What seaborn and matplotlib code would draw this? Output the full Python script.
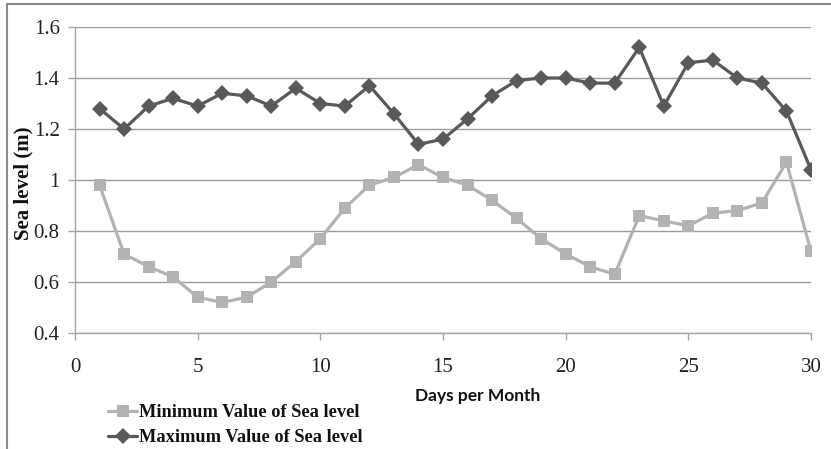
import matplotlib
matplotlib.use("Agg")
import matplotlib.pyplot as plt
from matplotlib.lines import Line2D
import seaborn as sns
import pandas as pd

days = list(range(1, 31))
min_values = [0.98, 0.71, 0.66, 0.62, 0.54, 0.52, 0.54, 0.60, 0.68, 0.77,
              0.89, 0.98, 1.01, 1.06, 1.01, 0.98, 0.92, 0.85, 0.77, 0.71,
              0.66, 0.63, 0.86, 0.84, 0.82, 0.87, 0.88, 0.91, 1.07, 0.72]
max_values = [1.28, 1.20, 1.29, 1.32, 1.29, 1.34, 1.33, 1.29, 1.36, 1.30,
              1.29, 1.37, 1.26, 1.14, 1.16, 1.24, 1.33, 1.39, 1.40, 1.40,
              1.38, 1.38, 1.52, 1.29, 1.46, 1.47, 1.40, 1.38, 1.27, 1.04]
series_names = ["Minimum Value of Sea level", "Maximum Value of Sea level"]
x_ticks = [0, 5, 10, 15, 20, 25, 30]
y_ticks = [0.4, 0.6, 0.8, 1.0, 1.2, 1.4, 1.6]
y_tick_labels = ["0.4", "0.6", "0.8", "1", "1.2", "1.4", "1.6"]

sns.set_style("white")
plt.rcParams['font.family'] = ['Liberation Serif', 'DejaVu Serif']

fig = plt.figure(figsize=(8.31, 4.49), dpi=100)
ax = fig.add_axes([75/831, 1-333/449, (811-75)/831, (333-27)/449])

df_min = pd.DataFrame({"Day": days, "Sea level": min_values})
df_max = pd.DataFrame({"Day": days, "Sea level": max_values})

sns.lineplot(data=df_min, x="Day", y="Sea level", ax=ax, color="#b3b3b3",
             linewidth=2.3, marker="s", markersize=9, markeredgewidth=0,
             label=series_names[0])
sns.lineplot(data=df_max, x="Day", y="Sea level", ax=ax, color="#595959",
             linewidth=2.3, marker="D", markersize=8.5, markeredgewidth=0,
             label=series_names[1])

ax.set_xlim(0, 30)
ax.set_ylim(0.4, 1.6)
ax.set_xticks(x_ticks)
ax.set_yticks(y_ticks)
ax.set_yticklabels(y_tick_labels)
ax.tick_params(axis="both", labelsize=15, colors="#a6a6a6", labelcolor="#222222",
               length=5, width=1, direction="out", bottom=True, left=True)
ax.tick_params(axis="x", pad=13)
ax.tick_params(axis="y", pad=6)
ax.grid(axis="y", color="#9c9c9c", linewidth=1)
ax.grid(axis="x", visible=False)
for s in ["top", "right"]:
    ax.spines[s].set_visible(False)
for s in ["left", "bottom"]:
    ax.spines[s].set_color("#a6a6a6")
    ax.spines[s].set_linewidth(1)

ax.set_xlabel("Days per Month", fontsize=12.5, fontweight="bold",
              family=["Lato", "DejaVu Sans"], color="#111111")
ax.xaxis.set_label_coords((478-75)/736, (333-388)/306)
ax.set_ylabel("Sea level (m)", fontsize=15, fontweight="bold", color="#111111")
ax.yaxis.set_label_coords((33-75)/736, 0.5 - (183-180)/306)

leg = ax.legend(loc="upper left", bbox_to_anchor=((108-75)/736, (333-404)/306),
                frameon=False, fontsize=13.2, handlelength=1.6, handletextpad=0.1,
                labelspacing=0.45, borderaxespad=0, borderpad=0)
for t in leg.get_texts():
    t.set_fontweight("bold")
    t.set_color("#111111")

fig.add_artist(Line2D([7/831, 7/831], [0, 1-4/449], color="#8a8a8a", linewidth=1.5))
fig.add_artist(Line2D([7/831, 1], [1-4/449, 1-4/449], color="#8a8a8a", linewidth=1.5))

fig.savefig("out.png", dpi=100)
